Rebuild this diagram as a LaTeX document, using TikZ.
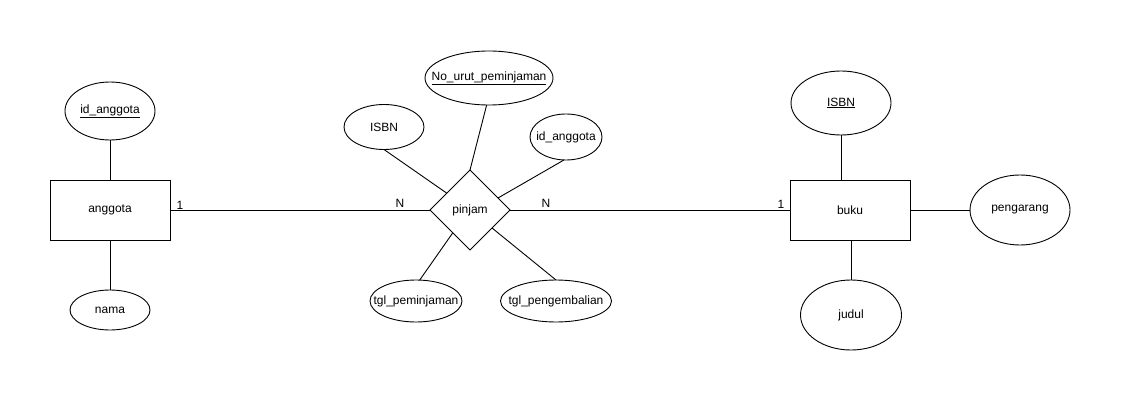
\documentclass[tikz,border=0pt]{standalone}
\usepackage{fontspec}
\setmainfont{Liberation Sans}
\usetikzlibrary{shapes.geometric,calc}
\newcommand{\fx}[1]{\makebox[0pt]{#1}}
\begin{document}
\begin{tikzpicture}[x=1pt,y=-1pt,
  every node/.style={font=\fontsize{12}{14}\selectfont, inner sep=0pt, outer sep=0pt},
  entity/.style={draw, line width=0.9pt, rectangle, minimum width=120pt, minimum height=60pt},
  attr/.style={draw, line width=0.9pt, ellipse},
  rel/.style={draw, line width=0.9pt, diamond, minimum width=80pt, minimum height=80pt},
  link/.style={line width=0.9pt},
  card/.style={font=\fontsize{12}{14}\selectfont}]
\useasboundingbox (0,0) rectangle (1121,401);
% left entity
\node[entity] (anggota) at (110,210) {anggota};
\node[attr, minimum width=90pt, minimum height=58pt] (ida) at (110,111) {\fx{\underline{id\_anggota}}};
\node[attr, minimum width=80pt, minimum height=40pt] (nama) at (110,310) {\fx{nama}};
\draw[link] (ida.south) -- (anggota.north);
\draw[link] (anggota.south) -- (nama.north);
% relationship
\node[rel] (pinjam) at (470,210) {\fx{pinjam}};
\node[attr, minimum width=128pt, minimum height=54pt] (nourut) at (489,78) {\fx{\underline{No\_urut\_peminjaman}}};
\node[attr, minimum width=80pt, minimum height=45pt] (isbnr) at (384,127) {\fx{ISBN}};
\node[attr, minimum width=72pt, minimum height=46pt] (idar) at (566,137) {\fx{id\_anggota}};
\node[attr, minimum width=92pt, minimum height=42pt] (tpj) at (416,301) {\fx{tgl\_peminjaman}};
\node[attr, minimum width=111pt, minimum height=42pt] (tpg) at (556,301) {\fx{tgl\_pengembalian}};
\draw[link] (isbnr.south) -- ($(pinjam.west)!0.42!(pinjam.north)$);
\draw[link] (nourut.265) -- (pinjam.north);
\draw[link] (idar.265) -- ($(pinjam.north)!0.7!(pinjam.east)$);
\draw[link] ($(pinjam.west)!0.57!(pinjam.south)$) -- (tpj.80);
\draw[link] ($(pinjam.east)!0.45!(pinjam.south)$) -- (tpg.north);
% right entity
\node[entity] (buku) at (850,210) {buku};
\node[attr, minimum width=100pt, minimum height=64pt] (isbn) at (841,103) {\fx{\underline{ISBN}}};
\node[attr, minimum width=100pt, minimum height=70pt] (pengarang) at (1020,210) {\fx{pengarang}};
\node[attr, minimum width=101pt, minimum height=70pt] (judul) at (851,315) {\fx{judul}};
\draw[link] (isbn.south) -- (isbn.south |- buku.north);
\draw[link] (buku.east) -- (pengarang.west);
\draw[link] (judul.north |- buku.south) -- (judul.north);
% relationship lines
\draw[link] (anggota.east) -- (pinjam.west);
\draw[link] (pinjam.east) -- (buku.west);
\node[card] (c1) at (180,205) {1};
\node[card] (c2) at (400,203) {N};
\node[card] (c3) at (546,203) {N};
\node[card] (c4) at (781,204) {1};
\end{tikzpicture}
\end{document}
